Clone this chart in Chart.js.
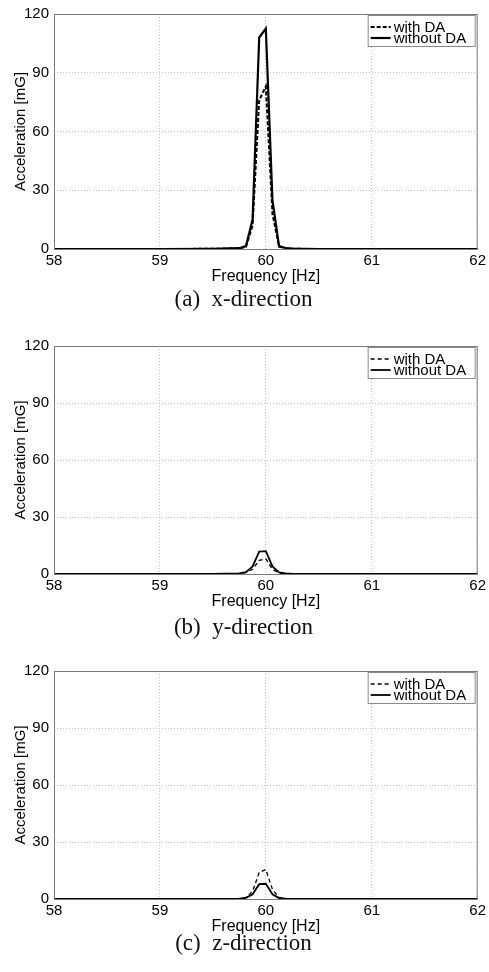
<!DOCTYPE html>
<html lang="en">
<head>
  <meta charset="UTF-8" />
  <title>Acceleration spectra - with / without DA</title>
  <style>
    body { margin: 0; background: #fff; }
    #page { position: relative; width: 489px; height: 972px; overflow: hidden; }
    canvas { position: absolute; left: 0; }
    .caption { position: absolute; left: 0; width: 487px; text-align: center; white-space: pre;
               font-family: "Liberation Serif", "DejaVu Serif", serif; font-size: 23px; line-height: 24px; color: #111; }
  </style>
</head>
<body>
  <div id="page">
    <canvas id="chartX" width="489" height="290" style="top:0px"></canvas>
    <div class="caption" style="top:287px">(a)  x-direction</div>

    <canvas id="chartY" width="489" height="283" style="top:332px"></canvas>
    <div class="caption" style="top:615px">(b)  y-direction</div>

    <canvas id="chartZ" width="489" height="283" style="top:657px"></canvas>
    <div class="caption" style="top:931px">(c)  z-direction</div>
  </div>

  <script src="https://cdn.jsdelivr.net/npm/chart.js"></script>

  <script>
    // frekvencije (Hz) i vrijednosti ubrzanja (mG) ocitane sa slike
    const freq = [58, 59, 59.5, 59.75, 59.8125, 59.875, 59.9375, 60, 60.0625, 60.125, 60.1875, 60.25, 60.5, 61, 62];

    const xWithDA    = [0, 0, 0.1, 0.3, 1.2, 12, 76, 83, 18, 1.2, 0.4, 0.1, 0, 0, 0];
    const xWithoutDA = [0, 0, 0.1, 0.4, 1.5, 15, 108, 112.5, 25, 1.5, 0.5, 0.2, 0, 0, 0];

    const yWithDA    = [0, 0, 0, 0.2, 0.8, 2.5, 7.2, 8, 2.5, 0.5, 0.2, 0, 0, 0, 0];
    const yWithoutDA = [0, 0, 0, 0.3, 1.0, 4, 11.8, 12, 4, 0.8, 0.3, 0, 0, 0, 0];

    const zWithDA    = [0, 0, 0, 0.2, 0.8, 4, 14, 15.5, 5, 0.8, 0.2, 0, 0, 0, 0];
    const zWithoutDA = [0, 0, 0, 0.2, 0.6, 2.5, 7.8, 8, 2.5, 0.5, 0.2, 0, 0, 0, 0];

    const xTicks = [58, 59, 60, 61, 62];
    const yTicks = [0, 30, 60, 90, 120];
    const seriesLabels = ["with DA", "without DA"];

    const FONT = "'Liberation Sans', Arial, sans-serif";

    // okvir osi + legenda u kutu (kao u matlabu)
    const boxLegend = {
      id: "boxLegend",
      afterDraw(chart) {
        const { ctx, chartArea: a } = chart;
        ctx.save();
        ctx.strokeStyle = "#7a7a7a";
        ctx.lineWidth = 1;
        ctx.setLineDash([]);
        ctx.strokeRect(a.left + 0.5, a.top + 0.5, a.right - a.left - 1, a.bottom - a.top);

        const bx = a.right - 110, by = a.top + 1;
        ctx.fillStyle = "#fff";
        ctx.fillRect(bx, by, 108, 32);
        ctx.strokeStyle = "#8a8a8a";
        ctx.strokeRect(bx + 0.5, by + 0.5, 107, 31);

        ctx.font = "15px " + FONT;
        ctx.textBaseline = "middle";
        chart.data.datasets.forEach((ds, i) => {
          const y = a.top + 13 + i * 11;
          ctx.strokeStyle = ds.borderColor;
          ctx.lineWidth = ds.borderWidth;
          ctx.setLineDash(ds.borderDash || []);
          ctx.beginPath();
          ctx.moveTo(a.right - 107, y);
          ctx.lineTo(a.right - 87, y);
          ctx.stroke();
          ctx.fillStyle = "#000";
          ctx.fillText(ds.label, a.right - 84, y + 0.5);
        });
        ctx.restore();
      }
    };

    function makeChart(id, withDA, withoutDA, dashWidth, solidWidth, dash) {
      const toPoints = vals => freq.map((f, i) => ({ x: f, y: vals[i] }));
      return new Chart(document.getElementById(id), {
        type: "line",
        data: {
          datasets: [
            { label: seriesLabels[0], data: toPoints(withDA), borderColor: "#000", borderWidth: dashWidth,
              borderDash: dash, pointRadius: 0, tension: 0, fill: false },
            { label: seriesLabels[1], data: toPoints(withoutDA), borderColor: "#000", borderWidth: solidWidth,
              pointRadius: 0, tension: 0, fill: false }
          ]
        },
        options: {
          responsive: false,
          animation: false,
          devicePixelRatio: 1,
          layout: { padding: { top: 12, right: 9, left: 0, bottom: 0 } },
          plugins: { legend: { display: false }, tooltip: { enabled: false } },
          scales: {
            x: {
              type: "linear", min: 58, max: 62,
              afterBuildTicks: s => { s.ticks = xTicks.map(v => ({ value: v })); },
              afterFit: s => { s.height = 41; },
              ticks: { color: "#000", padding: 3, font: { family: FONT, size: 15 } },
              grid: { color: "#c4c4c4", drawTicks: false },
              border: { display: false, dash: [1, 2] },
              title: { display: true, text: "Frequency [Hz]", color: "#000",
                       font: { family: FONT, size: 16 }, padding: { top: 0, bottom: 4 } }
            },
            y: {
              min: 0, max: 120,
              afterBuildTicks: s => { s.ticks = yTicks.map(v => ({ value: v })); },
              afterFit: s => { s.width = 54; },
              ticks: { color: "#000", padding: 5, font: { family: FONT, size: 15 } },
              grid: { color: "#c4c4c4", drawTicks: false },
              border: { display: false, dash: [1, 2] },
              title: { display: true, text: "Acceleration [mG]", color: "#000",
                       font: { family: FONT, size: 15 }, padding: { top: 12, bottom: 0 } }
            }
          }
        },
        plugins: [boxLegend]
      });
    }

    makeChart("chartX", xWithDA, xWithoutDA, 2, 2.2, [4, 2]);
    makeChart("chartY", yWithDA, yWithoutDA, 1.3, 1.8, [4, 3]);
    makeChart("chartZ", zWithDA, zWithoutDA, 1.3, 1.8, [4, 3]);
  </script>
</body>
</html>
